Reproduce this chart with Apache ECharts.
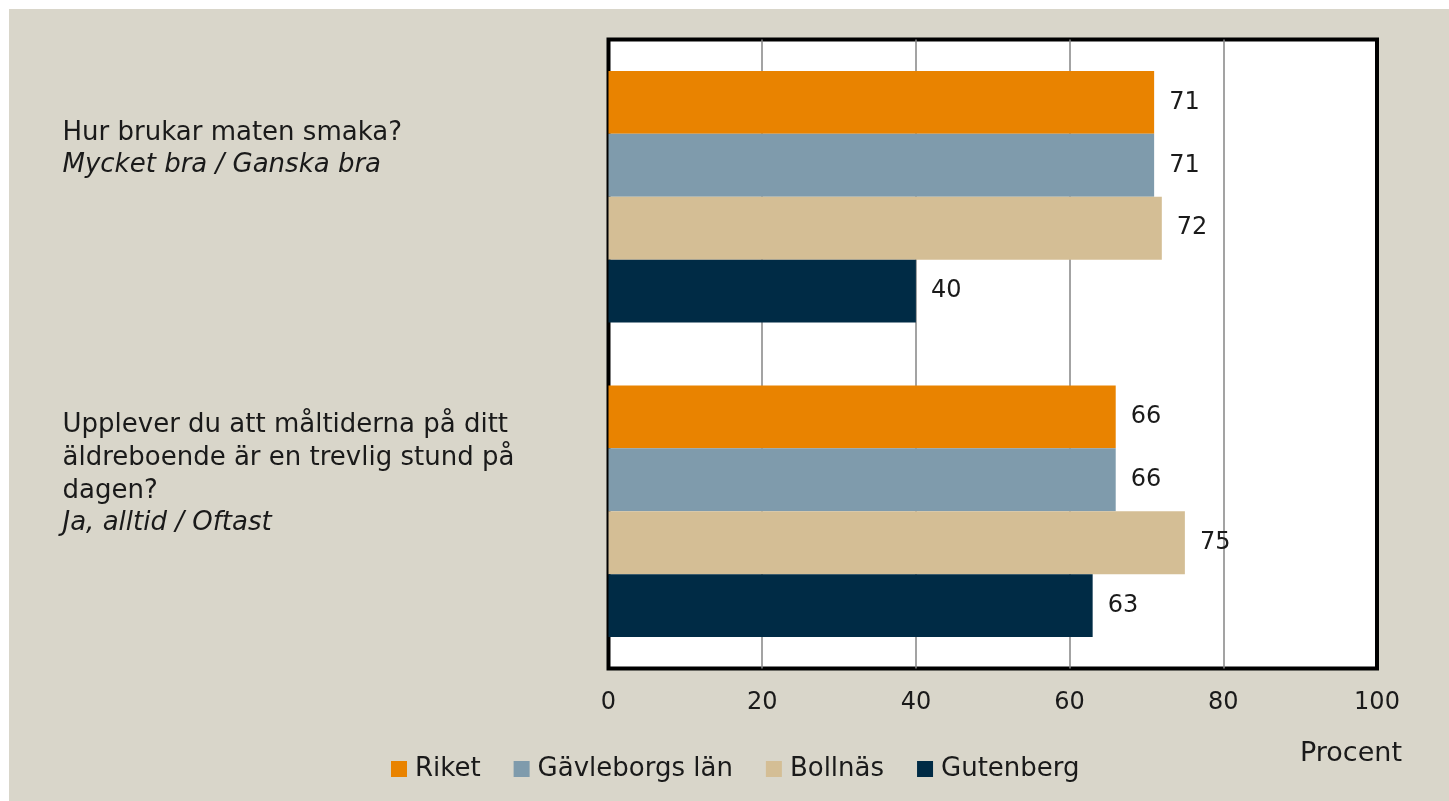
<!DOCTYPE html>
<html>
<head>
    <meta charset="utf-8">
    <title>Måltider</title>
    <script src="https://cdn.jsdelivr.net/npm/echarts@6.0.0/dist/echarts.min.js"></script>
    <style>
        body { margin: 0; background: #fff; }
        #chart { position: absolute; left: 9px; top: 9px; width: 1440px; height: 792px; }
    </style>
</head>
<body>
    <div id="chart"></div>

    <script>
        // frågor och svarsalternativ (kategorier)
        const questions = [
            'Hur brukar maten smaka?',
            'Upplever du att måltiderna på ditt\näldreboende är en trevlig stund på\ndagen?'
        ];
        const answers = ['Mycket bra / Ganska bra', 'Ja, alltid / Oftast'];

        // serier, procent
        const seriesNames = ['Riket', 'Gävleborgs län', 'Bollnäs', 'Gutenberg'];
        const riket = [71, 66];
        const gavleborg = [71, 66];
        const bollnas = [72, 75];
        const gutenberg = [40, 63];

        const xTicks = [0, 20, 40, 60, 80, 100];
        const colors = ['#e98300', '#7f9bac', '#d4be95', '#002b45'];
        const font = 'DejaVu Sans';

        const chart = echarts.init(document.getElementById('chart'));

        const values = [riket, gavleborg, bollnas, gutenberg];
        const series = seriesNames.map((name, i) => ({
            name: name,
            type: 'bar',
            barGap: '0%',
            barCategoryGap: '20%',
            itemStyle: { color: colors[i] },
            label: {
                show: true,
                position: 'right',
                distance: 15,
                fontFamily: font,
                fontSize: 24,
                color: '#1a1a1a'
            },
            data: values[i]
        }));

        const option = {
            backgroundColor: '#d9d6ca',
            animation: false,
            textStyle: { fontFamily: font },
            // axelnamnet "Procent" under skalan
            title: {
                text: 'Procent',
                left: 1286,
                top: 726,
                textStyle: { fontFamily: font, fontSize: 27, fontWeight: 'normal', color: '#1a1a1a' }
            },
            grid: {
                left: 599.5, top: 30.5, right: 72, bottom: 132.5,
                show: true,
                backgroundColor: '#fff',
                borderColor: '#000',
                borderWidth: 4
            },
            legend: {
                data: seriesNames,
                left: 377,
                top: 742,
                icon: 'rect',
                itemWidth: 16,
                itemHeight: 16,
                itemGap: 33,
                textStyle: { fontFamily: font, fontSize: 26, color: '#1a1a1a', padding: [0, 0, 0, 3] }
            },
            xAxis: {
                type: 'value',
                min: xTicks[0],
                max: xTicks[xTicks.length - 1],
                interval: 20,
                axisLine: { show: false },
                axisTick: { show: false },
                axisLabel: { fontSize: 24, color: '#1a1a1a', margin: 22 },
                splitLine: {
                    show: true,
                    showMinLine: false,
                    showMaxLine: false,
                    lineStyle: { color: '#858585', width: 1.5 }
                }
            },
            yAxis: {
                type: 'category',
                inverse: true,
                data: questions,
                axisLine: { show: false },
                axisTick: { show: false },
                axisLabel: {
                    align: 'left',
                    margin: 546,
                    formatter: (value, idx) => {
                        const q = value.split('\n').map(l => '{q|' + l + '}').join('\n');
                        return q + '\n{a|' + answers[idx] + '}\n{s' + idx + '| }';
                    },
                    rich: {
                        q: { fontFamily: font, fontSize: 26, color: '#1a1a1a', lineHeight: 33 },
                        a: { fontFamily: font, fontSize: 26, fontStyle: 'italic', color: '#1a1a1a', lineHeight: 31 },
                        s0: { fontSize: 10, lineHeight: 96, height: 96 },
                        s1: { fontSize: 10, lineHeight: 76, height: 76 }
                    }
                }
            },
            series: series
        };

        chart.setOption(option);
    </script>
</body>
</html>
